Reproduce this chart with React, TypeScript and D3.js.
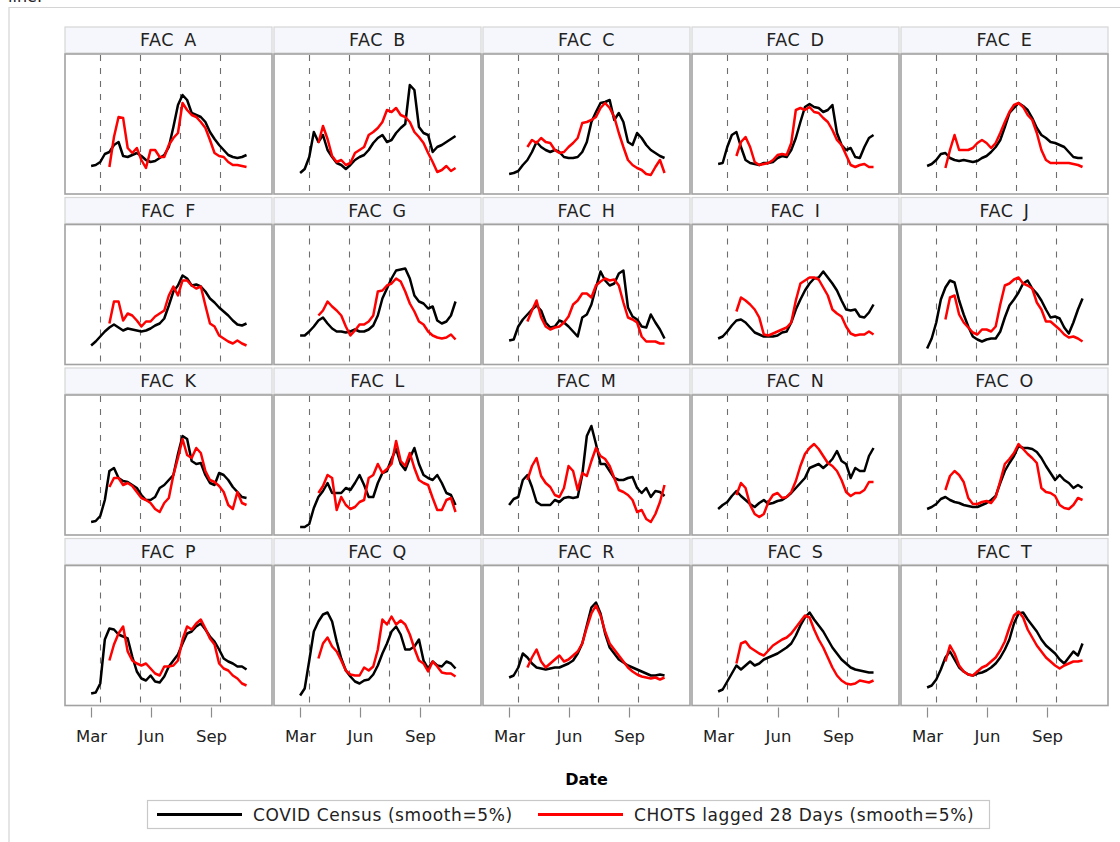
import React from "react";
import * as d3 from "d3";

// facilities, one panel each
const facilityNames = [
  "FAC A", "FAC B", "FAC C", "FAC D", "FAC E",
  "FAC F", "FAC G", "FAC H", "FAC I", "FAC J",
  "FAC K", "FAC L", "FAC M", "FAC N", "FAC O",
  "FAC P", "FAC Q", "FAC R", "FAC S", "FAC T",
];

// weekly sample dates (2020)
const weekDates = [
  "2020-03-01", "2020-03-08", "2020-03-15", "2020-03-22", "2020-03-29",
  "2020-04-05", "2020-04-12", "2020-04-19", "2020-04-26", "2020-05-03",
  "2020-05-10", "2020-05-17", "2020-05-24", "2020-05-31", "2020-06-07",
  "2020-06-14", "2020-06-21", "2020-06-28", "2020-07-05", "2020-07-12",
  "2020-07-19", "2020-07-26", "2020-08-02", "2020-08-09", "2020-08-16",
  "2020-08-23", "2020-08-30", "2020-09-06", "2020-09-13", "2020-09-20",
  "2020-09-27", "2020-10-04", "2020-10-11", "2020-10-18", "2020-10-25",
];
// the lagged CHOTS series only starts at the 5th week
const chotsFirstWeek = 4;

const xDomain = ["2020-01-21", "2020-12-03"];
const monthTicks = ["2020-03-01", "2020-06-01", "2020-09-01"];
const monthLabels = ["Mar", "Jun", "Sep"];
const refLines = ["2020-03-15", "2020-05-15", "2020-07-15", "2020-09-15"];

// COVID census (smoothed), relative level per facility
const covidCensus = [
  [28, 29, 32, 40, 42, 49, 52, 38, 37, 39, 41, 38, 34, 32, 33, 36, 39, 47, 67, 89, 99, 94, 81, 79, 77, 72, 62, 55, 49, 44, 39, 37, 36, 37, 39],
  [21, 25, 37, 62, 52, 59, 44, 37, 31, 29, 25, 29, 34, 37, 39, 44, 51, 56, 59, 52, 54, 61, 66, 70, 109, 104, 67, 61, 59, 42, 47, 49, 52, 55, 58],
  [20, 21, 23, 29, 34, 42, 52, 47, 44, 42, 44, 42, 37, 36, 36, 37, 42, 52, 72, 82, 91, 92, 94, 74, 81, 72, 52, 49, 61, 56, 49, 44, 41, 38, 36],
  [30, 31, 47, 59, 62, 47, 34, 31, 30, 29, 31, 31, 32, 36, 38, 37, 44, 56, 72, 87, 90, 87, 86, 82, 84, 89, 61, 49, 44, 46, 37, 36, 47, 56, 59],
  [28, 30, 34, 40, 41, 36, 34, 33, 34, 33, 32, 33, 36, 38, 42, 47, 54, 67, 81, 86, 91, 88, 84, 76, 66, 59, 56, 52, 51, 49, 47, 42, 37, 36, 36],
  [19, 23, 28, 33, 37, 40, 37, 34, 36, 35, 34, 33, 34, 36, 39, 41, 46, 59, 73, 79, 89, 86, 79, 80, 78, 73, 66, 62, 57, 53, 49, 44, 40, 39, 41],
  [29, 29, 33, 38, 44, 47, 41, 36, 33, 33, 32, 33, 35, 33, 33, 35, 39, 49, 66, 76, 86, 94, 95, 96, 86, 69, 63, 61, 56, 58, 44, 41, 43, 49, 63],
  [24, 25, 38, 45, 50, 55, 59, 54, 42, 37, 38, 44, 42, 38, 33, 28, 47, 50, 60, 77, 93, 84, 79, 81, 91, 94, 57, 48, 45, 38, 37, 50, 42, 35, 26],
  [26, 28, 33, 39, 44, 45, 42, 37, 32, 30, 28, 28, 28, 29, 32, 33, 42, 55, 65, 74, 81, 86, 87, 93, 87, 81, 74, 64, 55, 54, 55, 48, 47, 52, 60],
  [16, 26, 42, 65, 77, 84, 82, 64, 50, 38, 28, 25, 23, 25, 26, 26, 33, 47, 59, 65, 72, 81, 84, 76, 71, 64, 55, 47, 48, 46, 37, 31, 42, 55, 66],
  [13, 14, 19, 35, 64, 67, 57, 54, 53, 50, 47, 40, 35, 35, 38, 47, 50, 55, 60, 81, 99, 96, 74, 71, 72, 60, 52, 50, 62, 60, 55, 48, 43, 38, 37],
  [8, 8, 11, 27, 38, 44, 52, 42, 42, 42, 47, 45, 52, 60, 50, 38, 38, 52, 62, 64, 76, 86, 71, 65, 77, 87, 71, 60, 57, 55, 60, 52, 42, 40, 30],
  [30, 36, 38, 55, 60, 48, 33, 30, 30, 30, 35, 33, 37, 38, 37, 38, 60, 99, 109, 91, 71, 71, 64, 57, 55, 55, 57, 58, 47, 42, 47, 38, 44, 43, 39],
  [26, 30, 33, 39, 44, 39, 35, 31, 28, 32, 35, 31, 32, 34, 35, 38, 42, 47, 52, 57, 67, 69, 71, 67, 71, 76, 84, 74, 71, 57, 67, 64, 64, 79, 87],
  [26, 28, 31, 36, 38, 35, 33, 32, 30, 29, 28, 28, 30, 32, 35, 39, 52, 64, 72, 79, 89, 87, 87, 86, 83, 77, 69, 62, 55, 60, 55, 52, 47, 50, 47],
  [12, 13, 22, 66, 77, 76, 71, 69, 67, 49, 34, 27, 25, 30, 24, 23, 29, 39, 45, 51, 62, 72, 74, 79, 82, 76, 69, 64, 56, 47, 44, 42, 39, 39, 36],
  [10, 17, 45, 74, 84, 91, 93, 84, 64, 47, 35, 29, 24, 22, 25, 26, 31, 40, 52, 62, 74, 79, 71, 56, 56, 59, 66, 45, 37, 44, 40, 39, 44, 42, 37],
  [28, 30, 38, 52, 48, 42, 38, 37, 36, 37, 38, 38, 40, 42, 45, 52, 62, 80, 98, 103, 92, 72, 58, 52, 46, 43, 40, 38, 36, 34, 32, 30, 30, 31, 30],
  [14, 16, 24, 32, 40, 36, 40, 44, 40, 42, 46, 48, 50, 52, 55, 58, 62, 70, 80, 88, 93, 86, 80, 74, 66, 58, 52, 46, 42, 38, 36, 35, 34, 33, 33],
  [18, 20, 26, 36, 48, 54, 46, 38, 34, 31, 30, 32, 33, 35, 38, 42, 48, 56, 66, 82, 92, 93, 86, 80, 74, 66, 60, 56, 52, 46, 42, 48, 54, 50, 62],
];

// CHOTS lagged 28 days (smoothed), same relative scale
const chotsLagged = [
  [27, 57, 77, 76, 46, 41, 46, 34, 26, 44, 44, 37, 37, 49, 56, 61, 91, 84, 79, 77, 72, 66, 54, 41, 38, 37, 32, 29, 29, 28, 27],
  [51, 68, 55, 38, 32, 34, 29, 31, 41, 44, 47, 59, 62, 66, 72, 84, 82, 86, 79, 77, 72, 62, 57, 51, 41, 32, 22, 24, 28, 23, 26],
  [47, 54, 51, 56, 52, 51, 44, 41, 42, 47, 51, 56, 71, 72, 74, 77, 86, 91, 86, 77, 61, 47, 34, 29, 26, 24, 20, 19, 27, 34, 21],
  [38, 52, 57, 47, 32, 29, 30, 31, 34, 39, 40, 39, 51, 84, 86, 84, 87, 82, 81, 76, 72, 64, 54, 49, 39, 29, 27, 29, 30, 27, 27],
  [26, 44, 59, 44, 44, 44, 46, 51, 54, 51, 46, 51, 61, 72, 82, 89, 91, 87, 79, 74, 61, 44, 34, 31, 31, 31, 31, 31, 30, 29, 27],
  [41, 63, 63, 44, 51, 49, 44, 38, 43, 43, 48, 51, 54, 69, 78, 69, 84, 84, 79, 76, 78, 59, 41, 38, 29, 26, 23, 21, 24, 21, 19],
  [49, 54, 63, 58, 54, 49, 38, 29, 34, 40, 40, 43, 49, 73, 74, 79, 81, 86, 83, 73, 61, 53, 43, 40, 33, 29, 27, 26, 27, 30, 25],
  [43, 54, 64, 47, 38, 35, 37, 38, 42, 48, 60, 64, 71, 71, 67, 79, 83, 86, 84, 85, 79, 62, 47, 45, 42, 28, 23, 23, 23, 21, 21],
  [53, 67, 64, 60, 55, 47, 30, 29, 31, 33, 35, 37, 42, 64, 81, 84, 87, 87, 85, 77, 69, 55, 51, 48, 38, 31, 29, 30, 30, 33, 30],
  [45, 67, 69, 50, 42, 37, 32, 30, 35, 35, 33, 38, 60, 79, 81, 85, 87, 81, 79, 76, 62, 55, 43, 43, 39, 35, 30, 27, 28, 26, 23],
  [48, 57, 57, 50, 52, 49, 43, 37, 35, 32, 26, 23, 32, 37, 60, 77, 96, 80, 77, 87, 82, 64, 55, 53, 49, 43, 30, 26, 43, 32, 30],
  [42, 49, 60, 57, 25, 38, 30, 26, 28, 33, 35, 57, 60, 71, 62, 66, 71, 94, 74, 69, 82, 67, 55, 52, 50, 37, 25, 25, 35, 37, 23],
  [55, 69, 77, 59, 52, 48, 40, 38, 47, 69, 64, 45, 62, 59, 74, 87, 79, 76, 69, 57, 45, 43, 40, 35, 23, 25, 16, 13, 21, 33, 50],
  [40, 52, 47, 30, 21, 18, 21, 33, 40, 42, 37, 38, 43, 54, 69, 81, 87, 91, 86, 79, 72, 69, 64, 55, 43, 39, 42, 42, 45, 53, 53],
  [45, 59, 64, 60, 53, 37, 31, 31, 33, 34, 32, 38, 54, 71, 76, 82, 91, 86, 81, 77, 72, 47, 43, 42, 39, 30, 27, 26, 30, 37, 35],
  [45, 61, 72, 79, 54, 45, 42, 40, 42, 37, 32, 30, 39, 39, 40, 45, 66, 79, 76, 82, 86, 77, 67, 61, 42, 37, 35, 30, 27, 22, 20],
  [47, 62, 68, 59, 54, 45, 35, 31, 30, 30, 38, 35, 39, 56, 86, 81, 89, 81, 85, 81, 71, 57, 45, 42, 34, 44, 39, 33, 32, 32, 29],
  [38, 48, 56, 44, 38, 42, 46, 50, 44, 46, 50, 54, 62, 78, 92, 100, 90, 74, 62, 56, 50, 44, 38, 34, 31, 29, 28, 27, 28, 26, 28],
  [42, 62, 64, 58, 55, 52, 50, 55, 60, 63, 66, 68, 72, 78, 84, 90, 88, 76, 66, 58, 48, 38, 30, 25, 22, 21, 22, 25, 24, 23, 25],
  [44, 60, 52, 40, 34, 31, 30, 34, 38, 40, 44, 48, 55, 64, 78, 90, 94, 88, 76, 68, 60, 54, 48, 44, 40, 37, 40, 42, 44, 44, 45],
];

const parse = d3.timeParse("%Y-%m-%d");
const FONT = "'DejaVu Sans', Verdana, sans-serif";

const W = 1120;
const H = 842;
const gridLeft = 65;
const gridTop = 27;
const cols = 5;
const cellW = 207;
const cellGap = 2;
const rowPitch = 170.5;
const headerH = 26;
const plotH = 140;

export default function App() {
  const dates = weekDates.map((d) => parse(d) as Date);

  const x = d3
    .scaleTime()
    .domain(xDomain.map((d) => parse(d) as Date))
    .range([0, cellW]);
  const y = d3.scaleLinear().domain([0, 140]).range([plotH, 0]);

  const line = d3
    .line<[Date, number]>()
    .x((d) => x(d[0]))
    .y((d) => y(d[1]));

  const rows = Math.ceil(facilityNames.length / cols);
  const axisY = gridTop + (rows - 1) * rowPitch + headerH + 1 + plotH;

  return (
    <svg
      width={W}
      height={H}
      style={{ position: "absolute", left: 0, top: 0, background: "#fff" }}
      fontFamily={FONT}
    >
      {/* tail of the caption above, cut by the crop */}
      <text x={8} y={2} fontSize={16} fill="#222">
        line.
      </text>
      <path d={`M9,${H} V7.5 H${W}`} fill="none" stroke="#d4d4d4" strokeWidth={1.2} />

      {facilityNames.map((name, i) => {
        const c = i % cols;
        const r = Math.floor(i / cols);
        const px = gridLeft + c * (cellW + cellGap);
        const hy = gridTop + r * rowPitch;
        const py = hy + headerH + 1;
        const census = covidCensus[i].map((v, k) => [dates[k], v] as [Date, number]);
        const chots = chotsLagged[i].map((v, k) => [dates[k + chotsFirstWeek], v] as [Date, number]);
        return (
          <g key={name}>
            <rect x={px} y={hy} width={cellW} height={headerH} fill="#f6f7fc" stroke="#d6d6d6" strokeWidth={1.2} />
            <text
              x={px + cellW / 2}
              y={hy + 19}
              textAnchor="middle"
              fontSize={17.5}
              letterSpacing={0.6}
              wordSpacing={4}
              fill="#222"
            >
              {name}
            </text>
            <g transform={`translate(${px},${py})`}>
              <rect x={0} y={0} width={cellW} height={plotH} fill="#fff" />
              {refLines.map((d) => {
                const lx = Math.round(x(parse(d) as Date)) + 0.5;
                return (
                  <line
                    key={d}
                    x1={lx}
                    x2={lx}
                    y1={1}
                    y2={plotH}
                    stroke="#6e6e6e"
                    strokeWidth={1.1}
                    strokeDasharray="6,7"
                  />
                );
              })}
              <path d={line(census) ?? ""} fill="none" stroke="#000" strokeWidth={2.5} strokeLinejoin="round" />
              <path d={line(chots) ?? ""} fill="none" stroke="#ff0000" strokeWidth={2.5} strokeLinejoin="round" />
              <rect x={0} y={0} width={cellW} height={plotH} fill="none" stroke="#a2a2a2" strokeWidth={1.6} />
            </g>
          </g>
        );
      })}

      {d3.range(cols).map((c) => {
        const px = gridLeft + c * (cellW + cellGap);
        return (
          <g key={c} transform={`translate(${px},${axisY})`}>
            {monthTicks.map((t, k) => {
              const tx = Math.round(x(parse(t) as Date)) + 0.5;
              return (
                <g key={t}>
                  <line x1={tx} x2={tx} y1={2} y2={12} stroke="#8c8c8c" strokeWidth={1.2} />
                  <text x={tx} y={36} textAnchor="middle" fontSize={16.5} fill="#222">
                    {monthLabels[k]}
                  </text>
                </g>
              );
            })}
          </g>
        );
      })}

      <text x={gridLeft + (cols * cellW + (cols - 1) * cellGap) / 2} y={785} textAnchor="middle" fontSize={16} fontWeight="bold" fill="#000">
        Date
      </text>

      <g>
        <rect x={147.5} y={800.5} width={842} height={28} fill="#fff" stroke="#c8c8c8" strokeWidth={1.2} />
        <line x1={157} x2={242} y1={814.5} y2={814.5} stroke="#000" strokeWidth={3} />
        <text x={253} y={820.5} fontSize={17} letterSpacing={0.6} fill="#222">
          COVID Census (smooth=5%)
        </text>
        <line x1={538} x2={623} y1={814.5} y2={814.5} stroke="#ff0000" strokeWidth={3} />
        <text x={634} y={820.5} fontSize={17} letterSpacing={0.6} fill="#222">
          CHOTS lagged 28 Days (smooth=5%)
        </text>
      </g>
    </svg>
  );
}
